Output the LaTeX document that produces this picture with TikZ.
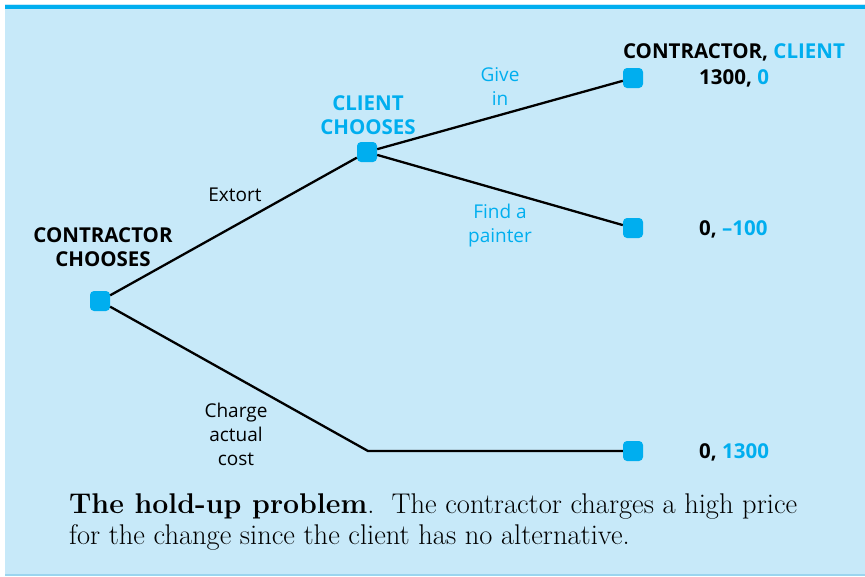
\documentclass[tikz,border=0pt]{standalone}
\usepackage{fontspec}
\newfontfamily\labelfont{Open Sans}
\usepackage{xcolor}
\usetikzlibrary{positioning}
\definecolor{hucyan}{HTML}{00AEEF}
\definecolor{hubg}{HTML}{C7E9F9}
\definecolor{huedge}{HTML}{9BD5EF}

\begin{document}
\begin{tikzpicture}[x=1pt, y=-1pt,
  choice/.style={rectangle, fill=hucyan, rounded corners=4pt,
    minimum size=20pt, inner sep=0pt},
  branch/.style={draw=black, line width=2.3pt},
  who/.style={font=\labelfont\bfseries\fontsize{20.5}{24}\selectfont,
    align=center, inner sep=0pt},
  move/.style={font=\labelfont\fontsize{19}{24}\selectfont,
    align=center, inner sep=0pt},
  pay/.style={font=\labelfont\bfseries\fontsize{20.5}{24}\selectfont,
    anchor=west, inner sep=0pt},
]
  \useasboundingbox (0,0) rectangle (865,576);
  \fill[hubg] (5,4) rectangle (865,576);
  \fill[hucyan] (5,5) rectangle (865,9);
  \fill[huedge] (5,574) rectangle (865,576);

  \node[choice] (c0) at (100,301) {};
  \node[choice] (c1) at (367,152) {};
  \node[choice] (t1) at (633,78) {};
  \node[choice] (t2) at (633,228) {};
  \node[choice] (t3) at (633,451) {};
  \coordinate (k) at (368,451);

  \draw[branch] (c0) -- (c1);
  \draw[branch] (c1) -- (t1);
  \draw[branch] (c1) -- (t2);
  \draw[branch] (c0) -- (k) -- (t3);

  \node[who] (w0) at (103,247) {CONTRACTOR\\CHOOSES};
  \node[who, text=hucyan] (w1) at (368,115) {CLIENT\\CHOOSES};
  \node[move] (m1) at (235,195) {Extort};
  \node[move, text=hucyan] (m2) at (500,87) {Give\\in};
  \node[move, text=hucyan] (m3) at (500,226) {Find a\\painter};
  \node[move] (m4) at (236,434) {Charge\\actual\\cost};

  \node[who] (hdr) at (734,52) {CONTRACTOR, \textcolor{hucyan}{CLIENT}};
  \node[pay] (p1) at (699,78) {1300, \textcolor{hucyan}{0}};
  \node[pay] (p2) at (699,229) {0, \textcolor{hucyan}{\textendash100}};
  \node[pay] (p3) at (699,452) {0, \textcolor{hucyan}{1300}};

  \node[anchor=north west, align=left, inner sep=0pt,
    font=\fontsize{28.5}{31}\selectfont] (cap) at (69,494)
    {\textbf{The hold-up problem}.\ \ The contractor charges a high price\\
     for the change since the client has no alternative.};
\end{tikzpicture}
\end{document}
